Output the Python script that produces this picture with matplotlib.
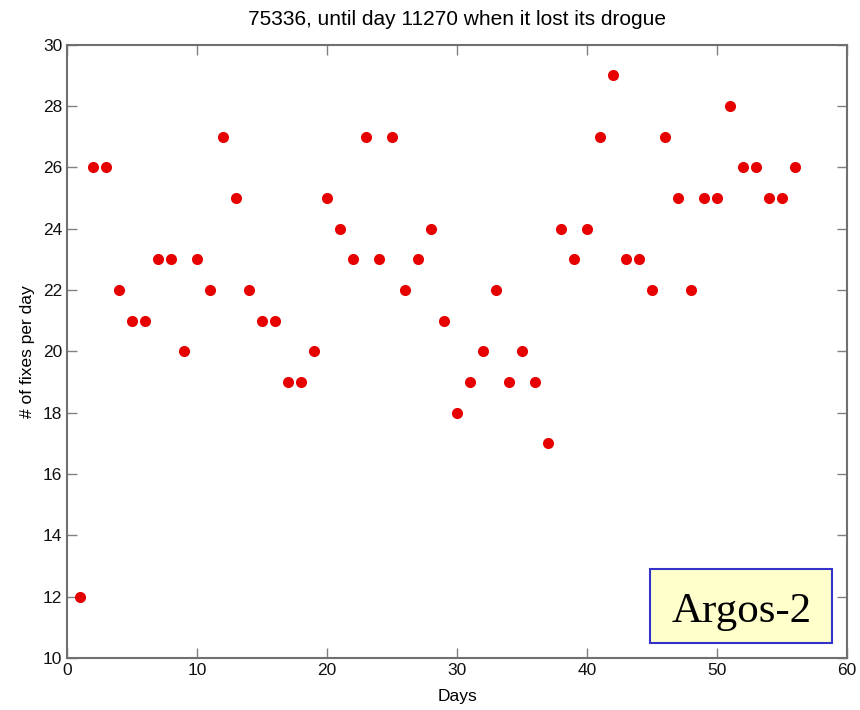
import matplotlib
matplotlib.use("Agg")
import matplotlib.pyplot as plt
from matplotlib.patches import Rectangle

days = list(range(1, 57))
fixes = [12, 26, 26, 22, 21, 21, 23, 23, 20, 23,
         22, 27, 25, 22, 21, 21, 19, 19, 20, 25,
         24, 23, 27, 23, 27, 22, 23, 24, 21, 18,
         19, 20, 22, 19, 20, 19, 17, 24, 23, 24,
         27, 29, 23, 23, 22, 27, 25, 22, 25, 25,
         28, 26, 26, 25, 25, 26]
xticks = [0, 10, 20, 30, 40, 50, 60]
yticks = list(range(10, 31, 2))

plt.rcParams['font.family'] = ['Liberation Sans', 'DejaVu Sans']

fig = plt.figure(figsize=(8.6, 7.1), dpi=100)
ax = fig.add_axes([0.078, 0.073, 0.907, 0.864])
ax.plot(days, fixes, 'o', color='#e60000', markersize=8, markeredgewidth=0)
ax.set_xlim(0, 60)
ax.set_ylim(10, 30)
ax.set_xticks(xticks)
ax.set_yticks(yticks)
ax.tick_params(direction='in', top=True, right=True, length=7, width=1,
               color='#808080', labelsize=12.5, labelcolor='#111111')
for s in ax.spines.values():
    s.set_color('#707070')
    s.set_linewidth(1.5)
ax.set_xlabel('Days', fontsize=12.5, labelpad=8)
ax.set_ylabel('# of fixes per day', fontsize=12.5, labelpad=6)
ax.set_title('75336, until day 11270 when it lost its drogue', fontsize=15, pad=14)

fig.patches.append(Rectangle((0.756, 0.0944), 0.211, 0.1042,
                             transform=fig.transFigure, facecolor='#ffffcc',
                             edgecolor='#3333cc', linewidth=1.5, zorder=5))
fig.text(0.862, 0.124, 'Argos-2', fontsize=31, family=['Liberation Serif'],
         ha='center', va='baseline', zorder=6)

fig.savefig('out.png', dpi=100)
